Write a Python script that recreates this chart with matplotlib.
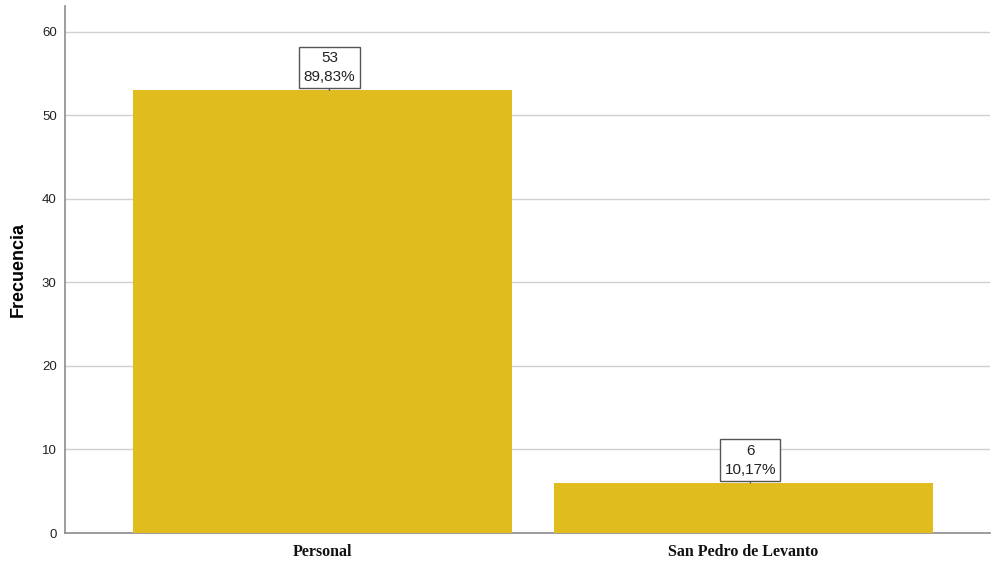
import matplotlib
matplotlib.use("Agg")
import matplotlib.pyplot as plt
from matplotlib.transforms import offset_copy

categories = ["Personal", "San Pedro de Levanto"]
counts = [53, 6]
percents = ["89,83%", "10,17%"]
yticks = [0, 10, 20, 30, 40, 50, 60]

W, H = 993, 564
fig = plt.figure(figsize=(W / 100, H / 100), dpi=100)
ax = fig.add_axes([65 / W, (H - 533) / H, (990 - 65) / W, (533 - 6) / H])

x = list(range(len(categories)))
ax.bar(x, counts, width=0.9, color="#E1BC1E", zorder=3)

ax.set_xlim(-0.6116, 1.5855)
ax.set_ylim(0, 63.1)
ax.set_yticks(yticks)
ax.set_yticklabels([str(v) for v in yticks], fontsize=9.5, color="#222222",
                   family="Liberation Sans")
ax.tick_params(axis="y", length=0, pad=6)
ax.tick_params(axis="x", length=0, pad=8)
ax.set_xticks(x)
ax.set_xticklabels(categories, fontsize=11.5, fontweight="bold",
                   family="Liberation Serif", color="#111111")
ax.grid(axis="y", color="#D0D0D0", linewidth=1, zorder=0)
for s in ["top", "right"]:
    ax.spines[s].set_visible(False)
for s in ["left", "bottom"]:
    ax.spines[s].set_color("#8C8C8C")
    ax.spines[s].set_linewidth(1.2)
ax.set_ylabel("Frecuencia", fontsize=13, fontweight="bold",
              family="Liberation Sans", labelpad=11)

shifted = offset_copy(ax.transData, fig=fig, x=5, y=0, units="points")
for xi, c, p in zip(x, counts, percents):
    ax.annotate(f"{c}\n{p}", xy=(xi, c), xycoords=shifted,
                xytext=(0, 4.5), textcoords="offset points",
                ha="center", va="bottom", fontsize=11, family="Liberation Sans",
                linespacing=1.45, color="#222222",
                bbox=dict(boxstyle="square,pad=0.28", fc="white", ec="#555555", lw=1),
                arrowprops=dict(arrowstyle="-", color="#555555", lw=1,
                                shrinkA=0, shrinkB=0),
                zorder=5)

fig.savefig("out.png", dpi=100)
